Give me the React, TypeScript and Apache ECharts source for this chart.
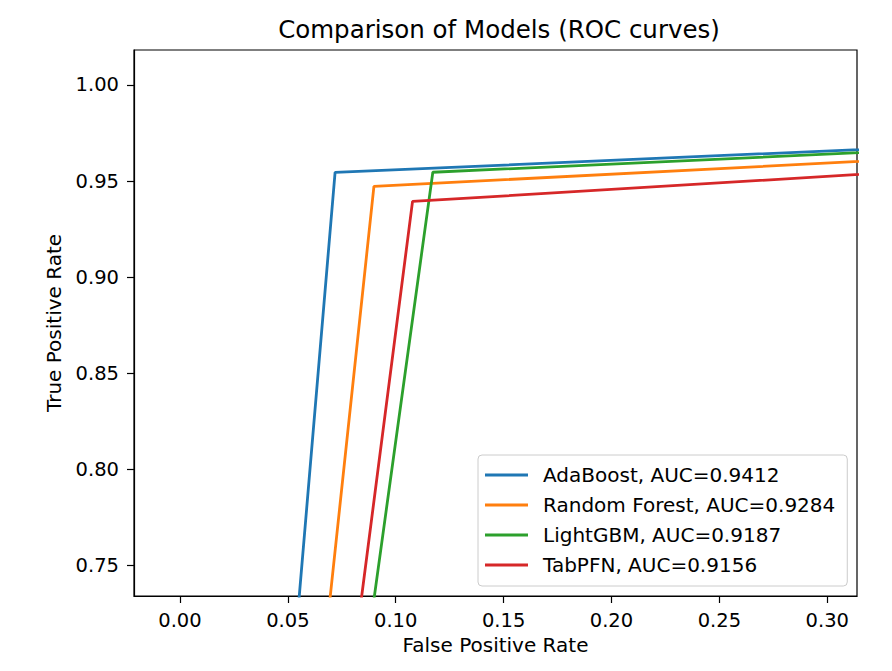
import React, { useEffect, useRef } from "react";
import * as echarts from "echarts";

const modelNames = ["AdaBoost", "Random Forest", "LightGBM", "TabPFN"];
const aucValues = [0.9412, 0.9284, 0.9187, 0.9156];
const colors = ["#1f77b4", "#ff7f0e", "#2ca02c", "#d62728"];
// ROC points: [fpr, tpr] for each model
const adaBoostRoc = [[0, 0], [0.0719, 0.9545], [1, 1]];
const randomForestRoc = [[0, 0], [0.0899, 0.9472], [1, 1]];
const lightGbmRoc = [[0, 0], [0.1172, 0.9546], [1, 1]];
const tabPfnRoc = [[0, 0], [0.1078, 0.9394], [1, 1]];
const rocCurves = [adaBoostRoc, randomForestRoc, lightGbmRoc, tabPfnRoc];
const xTicks = [0, 0.05, 0.1, 0.15, 0.2, 0.25, 0.3];
const yTicks = [0.75, 0.8, 0.85, 0.9, 0.95, 1.0];

const FONT = "DejaVu Sans";

export default function App() {
  const ref = useRef<HTMLDivElement>(null);
  useEffect(() => {
    if (!ref.current) return;
    const chart = echarts.init(ref.current, undefined, { renderer: "svg" });
    const labels = modelNames.map((n, i) => `${n}, AUC=${aucValues[i].toFixed(4)}`);
    chart.setOption({
      animation: false,
      backgroundColor: "#ffffff",
      title: {
        text: "Comparison of Models (ROC curves)",
        left: 494,
        textAlign: "center",
        top: 12,
        textStyle: { fontFamily: FONT, fontSize: 24.5, fontWeight: "normal", color: "#000" },
      },
      grid: {
        left: 134,
        right: 35,
        top: 50,
        bottom: 75,
        show: true,
        borderColor: "#000",
        borderWidth: 1.2,
        backgroundColor: "transparent",
      },
      legend: {
        left: 478,
        top: 455,
        orient: "vertical",
        data: labels.map((l, i) => ({ name: l, icon: "rect", itemStyle: { color: colors[i] } })),
        itemWidth: 43,
        itemHeight: 3,
        itemGap: 10,
        padding: [10, 12, 11, 7],
        borderColor: "#cccccc",
        borderWidth: 1,
        borderRadius: 4,
        backgroundColor: "rgba(255,255,255,0.8)",
        textStyle: {
          fontFamily: FONT,
          fontSize: 20,
          lineHeight: 20,
          color: "#000",
          padding: [0, 0, 0, 10],
        },
      },
      xAxis: {
        type: "value",
        min: -0.0213,
        max: 0.3138,
        name: "False Positive Rate",
        nameLocation: "middle",
        nameGap: 39,
        nameTextStyle: { fontFamily: FONT, fontSize: 20, color: "#000" },
        splitLine: { show: false },
        axisLine: { show: true, onZero: false, lineStyle: { color: "#000", width: 1.2 } },
        axisTick: { show: true, length: 7, customValues: xTicks, lineStyle: { color: "#000", width: 1.2 } },
        axisLabel: {
          customValues: xTicks,
          margin: 14,
          fontFamily: FONT,
          fontSize: 19.5,
          color: "#000",
          formatter: (v: number) => v.toFixed(2),
        },
      },
      yAxis: {
        type: "value",
        min: 0.7341,
        max: 1.0182,
        name: "True Positive Rate",
        nameLocation: "middle",
        nameGap: 70,
        nameTextStyle: { fontFamily: FONT, fontSize: 20, color: "#000" },
        splitLine: { show: false },
        axisLine: { show: true, onZero: false, lineStyle: { color: "#000", width: 1.2 } },
        axisTick: { show: true, length: 7, customValues: yTicks, lineStyle: { color: "#000", width: 1.2 } },
        axisLabel: {
          customValues: yTicks,
          margin: 15,
          fontFamily: FONT,
          fontSize: 19.5,
          color: "#000",
          formatter: (v: number) => v.toFixed(2),
        },
      },
      series: rocCurves.map((pts, i) => ({
        type: "line",
        name: labels[i],
        data: pts,
        showSymbol: false,
        clip: true,
        color: colors[i],
        lineStyle: { color: colors[i], width: 2.8 },
      })),
    });
    return () => chart.dispose();
  }, []);
  return (
    <div
      ref={ref}
      style={{ position: "absolute", left: 0, top: 0, width: 892, height: 671 }}
    />
  );
}
